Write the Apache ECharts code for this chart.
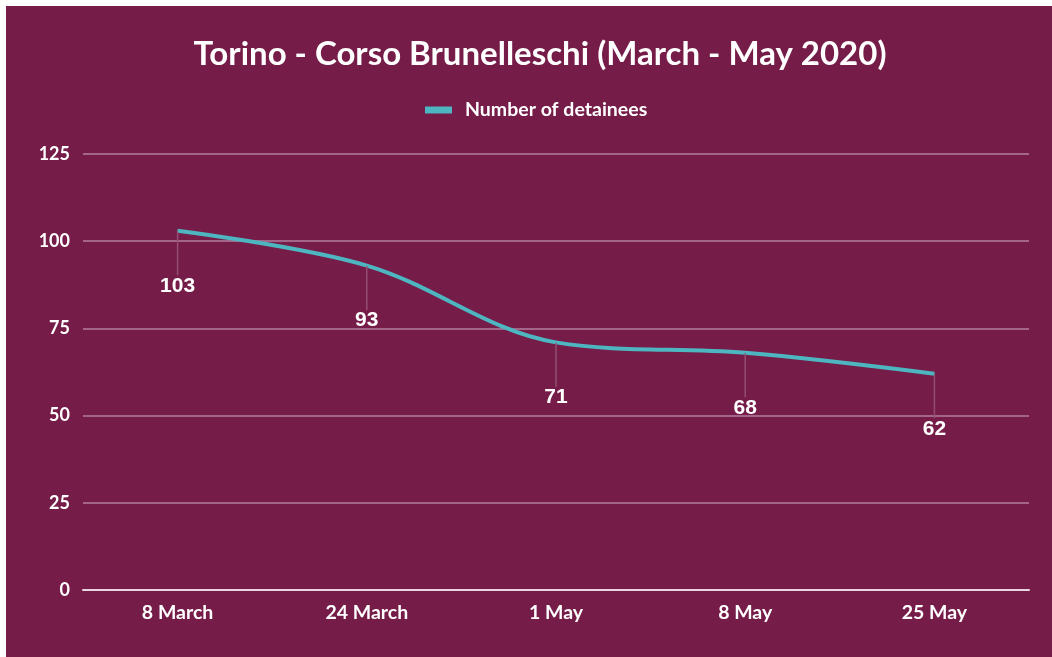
<!DOCTYPE html>
<html>
<head>
<meta charset="utf-8">
<script src="https://cdn.jsdelivr.net/npm/echarts@6/dist/echarts.min.js"></script>
<style>
  html, body { margin: 0; padding: 0; background: #fff; }
  #chart { width: 1052px; height: 657px; }
</style>
</head>
<body>
<div id="chart"></div>
<script>
// dati
var dates = ['8 March', '24 March', '1 May', '8 May', '25 May'];
var detainees = [103, 93, 71, 68, 62];
var yTicks = [0, 25, 50, 75, 100, 125];

var bg = '#751c48';
var teal = '#4db6c0';

var chart = echarts.init(document.getElementById('chart'));

var options = {
  backgroundColor: '#fff',
  textStyle: { fontFamily: 'Lato, "Open Sans", sans-serif' },
  // sfondo viola spostato di qualche pixel
  graphic: [{
    type: 'rect',
    z: -10,
    silent: true,
    shape: { x: 6, y: 6, width: 1046, height: 651 },
    style: { fill: bg }
  }],
  title: {
    text: 'Torino - Corso Brunelleschi (March - May 2020)',
    left: 535,
    textAlign: 'center',
    top: 33,
    textStyle: { color: '#fff', fontSize: 33, fontWeight: 'bold', fontFamily: 'Lato, sans-serif' }
  },
  legend: {
    data: ['Number of detainees'],
    top: 95,
    left: 420,
    icon: 'rect',
    itemWidth: 27,
    itemHeight: 7,
    itemGap: 10,
    textStyle: { color: '#fff', fontSize: 19.5, fontWeight: 'bold', padding: [0, 0, 0, 8] }
  },
  grid: {
    left: 83,
    right: 23,
    top: 154,
    bottom: 67,
    containLabel: false
  },
  xAxis: {
    type: 'category',
    data: dates,
    boundaryGap: true,
    axisLine: { lineStyle: { color: '#e8d6df', width: 2 } },
    axisTick: { show: false },
    axisLabel: { color: '#fff', fontSize: 19.5, fontWeight: 'bold', margin: 13 }
  },
  yAxis: {
    type: 'value',
    min: yTicks[0],
    max: yTicks[yTicks.length - 1],
    interval: 25,
    axisLine: { show: false },
    axisTick: { show: false },
    axisLabel: { color: '#fff', fontSize: 18, fontWeight: 'bold', margin: 13 },
    splitLine: { lineStyle: { color: '#a3668a', width: 2 } }
  },
  series: [{
    name: 'Number of detainees',
    type: 'line',
    data: detainees,
    smooth: 0.35,
    symbol: 'circle',
    symbolSize: 1,
    showSymbol: true,
    itemStyle: { color: teal },
    lineStyle: { color: teal, width: 4 },
    label: {
      show: true,
      position: 'bottom',
      distance: 8,
      color: '#fff',
      fontSize: 21,
      fontWeight: 'bold',
      fontFamily: '"Liberation Sans", Arial, sans-serif'
    },
    labelLayout: { dy: 36 },
    labelLine: {
      show: true,
      lineStyle: { color: '#934f72', width: 1.5 }
    }
  }]
};

chart.setOption(options);
</script>
</body>
</html>
